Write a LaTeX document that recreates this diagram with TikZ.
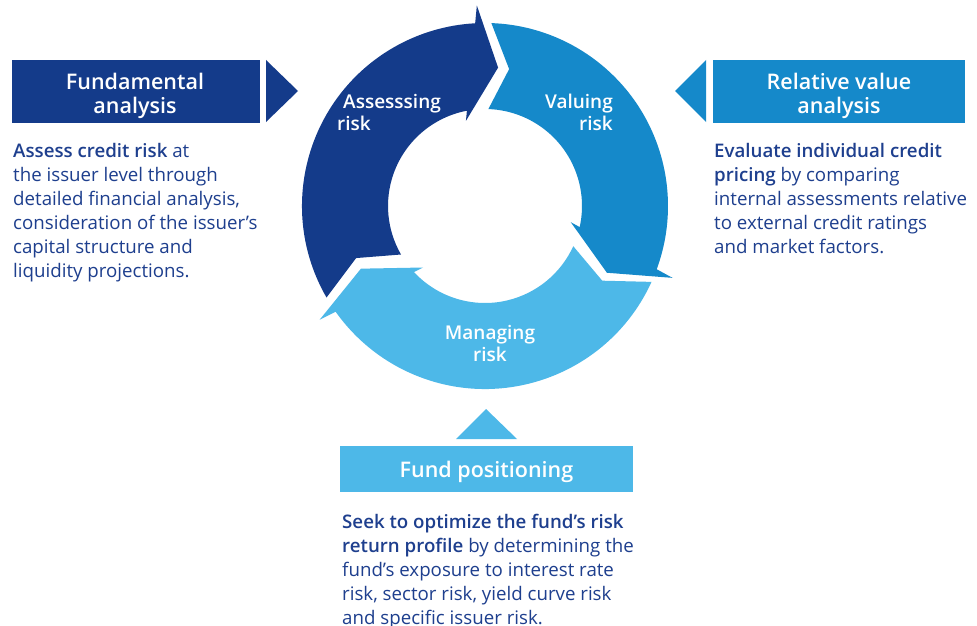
\documentclass[tikz,border=0pt]{standalone}
\usepackage{fontspec}
\setmainfont{Open Sans}
\IfFontExistsTF{Open Sans SemiBold}{\newfontfamily\semib{Open Sans SemiBold}}{%
  \IfFontExistsTF{Open Sans Semibold}{\newfontfamily\semib{Open Sans Semibold}}{%
    \IfFontExistsTF{OpenSans-Semibold.ttf}{\newfontfamily\semib{OpenSans-Semibold.ttf}}{%
      \IfFontExistsTF{OpenSans-SemiBold.ttf}{\newfontfamily\semib{OpenSans-SemiBold.ttf}}{%
        \newcommand\semib{\bfseries}}}}}
\definecolor{dkblue}{HTML}{143B8A}
\definecolor{mdblue}{HTML}{1589CA}
\definecolor{ltblue}{HTML}{4DB8E8}
\definecolor{txtblue}{HTML}{1E3F8E}
\newcommand\ringarrow[3]{%
  \pgfmathsetmacro\rOa{#3+8.48}%
  \pgfmathsetmacro\rBo{#3+7.73}%
  \pgfmathsetmacro\rBi{#3+18}%
  \pgfmathsetmacro\rIa{#3+16.16}%
  \pgfmathsetmacro\rN{#2-8}%
  \fill[#1] (#2:183) arc[start angle=#2,end angle=\rOa,radius=183]
    -- (\rBo:200.8) -- (#3:139) -- (\rBi:87.3) -- (\rIa:97)
    arc[start angle=\rIa,end angle=#2,radius=97] -- (\rN:139) -- cycle;}
\tikzset{
  ringlbl/.style={text=white, inner sep=0pt, font=\semib\fontsize{19}{22.4}\selectfont},
  headlbl/.style={text=white, inner sep=0pt, anchor=base, font=\semib\fontsize{21.5}{24.3}\selectfont},
  bodytxt/.style={text=txtblue, inner sep=0pt, anchor=base west, font=\fontsize{18.7}{24}\selectfont},
  headbox/.style={inner sep=0pt, draw=none, anchor=north west},
}
\begin{document}
\begin{tikzpicture}[x=1pt,y=-1pt]
\useasboundingbox (0,0) rectangle (977,626);
\fill[white] (0,0) rectangle (977,626);
% cycle
\begin{scope}[shift={(485,206)},y=1pt]
  \ringarrow{dkblue}{210}{84.6}
  \ringarrow{mdblue}{88}{-28.7}
  \ringarrow{ltblue}{335.5}{206.8}
\end{scope}
\node[ringlbl, anchor=base west] (assess) at (337,108.3)
  {\begin{tabular}[t]{@{}l@{}}\hspace*{6pt}Assesssing\\risk\end{tabular}};
\node[ringlbl, anchor=base east] (valuing) at (613,108.3)
  {\begin{tabular}[t]{@{}r@{}}Valuing\\risk\end{tabular}};
\node[ringlbl, anchor=base] (managing) at (490,339.3)
  {\begin{tabular}[t]{@{}c@{}}Managing\\risk\end{tabular}};
% left block
\node[headbox, fill=dkblue, minimum width=248pt, minimum height=62.7pt] (fundbox) at (12,60) {};
\fill[dkblue] (266,60) -- (298,91) -- (266,122) -- cycle;
\node[headlbl] (fundlbl) at (135,89)
  {\begin{tabular}[t]{@{}c@{}}Fundamental\\analysis\end{tabular}};
\node[bodytxt] (fundtxt) at (13,157.5)
  {\begin{tabular}[t]{@{}l@{}}{\semib Assess credit risk} at\\the issuer level through\\detailed financial analysis,\\consideration of the issuer’s\\capital structure and\\liquidity projections.\end{tabular}};
% right block
\node[headbox, fill=mdblue, minimum width=252pt, minimum height=62.7pt] (relbox) at (713,60) {};
\fill[mdblue] (706,60) -- (675,91) -- (706,122) -- cycle;
\node[headlbl] (rellbl) at (839,89)
  {\begin{tabular}[t]{@{}c@{}}Relative value\\analysis\end{tabular}};
\node[bodytxt] (reltxt) at (714,157.5)
  {\begin{tabular}[t]{@{}l@{}}{\semib Evaluate individual credit}\\{\semib pricing} by comparing\\internal assessments relative\\to external credit ratings\\and market factors.\end{tabular}};
% bottom block
\fill[ltblue] (456,439) -- (486,409) -- (517,439) -- cycle;
\node[headbox, fill=ltblue, minimum width=293pt, minimum height=46pt] (posbox) at (340,446) {};
\node[headlbl] (poslbl) at (486.5,477.3) {Fund positioning};
\node[bodytxt] (postxt) at (342,528.3)
  {\begin{tabular}[t]{@{}l@{}}{\semib Seek to optimize the fund’s risk}\\{\semib return profile} by determining the\\fund’s exposure to interest rate\\risk, sector risk, yield curve risk\\and specific issuer risk.\end{tabular}};
\end{tikzpicture}
\end{document}
